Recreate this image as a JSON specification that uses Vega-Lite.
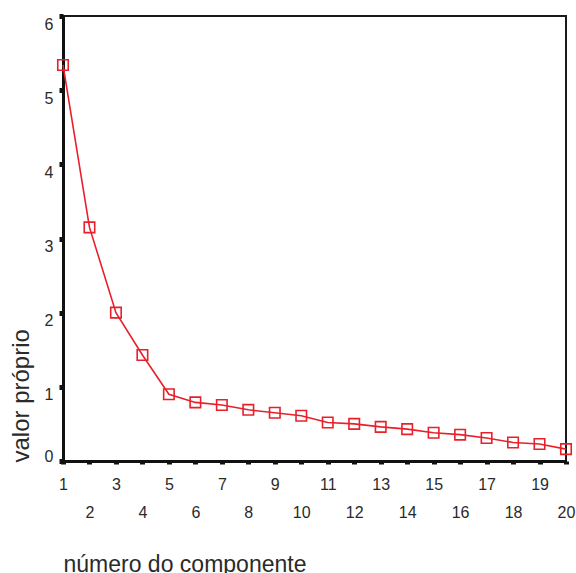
{
  "$schema": "https://vega.github.io/schema/vega-lite/v6.json",
  "width": 503,
  "height": 445,
  "autosize": {"type": "none"},
  "padding": {"left": 63, "top": 16, "right": 10, "bottom": 112},
  "background": "white",
  "config": {
    "view": {"stroke": "#1a1a1a", "strokeWidth": 2},
    "font": "Liberation Sans"
  },
  "data": {
    "values": [
      {"componente": 1, "valor": 5.34},
      {"componente": 2, "valor": 3.15},
      {"componente": 3, "valor": 2.0},
      {"componente": 4, "valor": 1.43},
      {"componente": 5, "valor": 0.9},
      {"componente": 6, "valor": 0.79},
      {"componente": 7, "valor": 0.755},
      {"componente": 8, "valor": 0.69},
      {"componente": 9, "valor": 0.65},
      {"componente": 10, "valor": 0.61},
      {"componente": 11, "valor": 0.52},
      {"componente": 12, "valor": 0.5},
      {"componente": 13, "valor": 0.46},
      {"componente": 14, "valor": 0.43},
      {"componente": 15, "valor": 0.38},
      {"componente": 16, "valor": 0.355},
      {"componente": 17, "valor": 0.31},
      {"componente": 18, "valor": 0.25},
      {"componente": 19, "valor": 0.23},
      {"componente": 20, "valor": 0.16}
    ]
  },
  "encoding": {
    "x": {
      "field": "componente",
      "type": "quantitative",
      "scale": {"domain": [1, 20], "nice": false, "zero": false},
      "axis": {
        "title": "número do componente",
        "values": [1,2,3,4,5,6,7,8,9,10,11,12,13,14,15,16,17,18,19,20],
        "labelExpr": "datum.value % 2 == 0 ? ['', datum.label] : datum.label",
        "labelLineHeight": 28,
        "labelBaseline": "top",
        "labelFontSize": 16,
        "labelColor": "#2a2a2a",
        "labelPadding": 12,
        "labelOverlap": false,
        "labelFlush": false,
        "labelBound": false,
        "tickSize": 3,
        "tickWidth": 5,
        "tickColor": "#111111",
        "domainColor": "#111111",
        "domainWidth": 3,
        "grid": false,
        "titleFontSize": 23,
        "titleFontWeight": "normal",
        "titleColor": "#2a2a2a",
        "titleAnchor": "start",
        "titleAlign": "left",
        "titleBaseline": "alphabetic",
        "titleX": 0,
        "titleY": 110
      }
    },
    "y": {
      "field": "valor",
      "type": "quantitative",
      "scale": {"domain": [0, 6], "nice": false},
      "axis": {
        "title": "valor próprio",
        "values": [0,1,2,3,4,5,6],
        "labelFontSize": 16,
        "labelColor": "#2a2a2a",
        "labelPadding": 6,
        "labelBaseline": {"condition": {"test": "datum.value == 0", "value": "alphabetic"}, "value": "top"},
        "labelOverlap": false,
        "labelFlush": false,
        "tickSize": 4,
        "tickWidth": 5,
        "tickColor": "#111111",
        "domainColor": "#111111",
        "domainWidth": 3,
        "grid": false,
        "titleFontSize": 24,
        "titleFontWeight": "normal",
        "titleColor": "#2a2a2a",
        "titleAngle": -90,
        "titleAnchor": "start",
        "titleAlign": "left",
        "titleBaseline": "alphabetic",
        "titleX": -35,
        "titleY": 446
      }
    }
  },
  "layer": [
    {"mark": {"type": "line", "color": "#e8202a", "strokeWidth": 1.6}},
    {"mark": {"type": "point", "shape": "square", "filled": false, "color": "#e8202a", "size": 110, "strokeWidth": 1.6, "opacity": 1}}
  ]
}
